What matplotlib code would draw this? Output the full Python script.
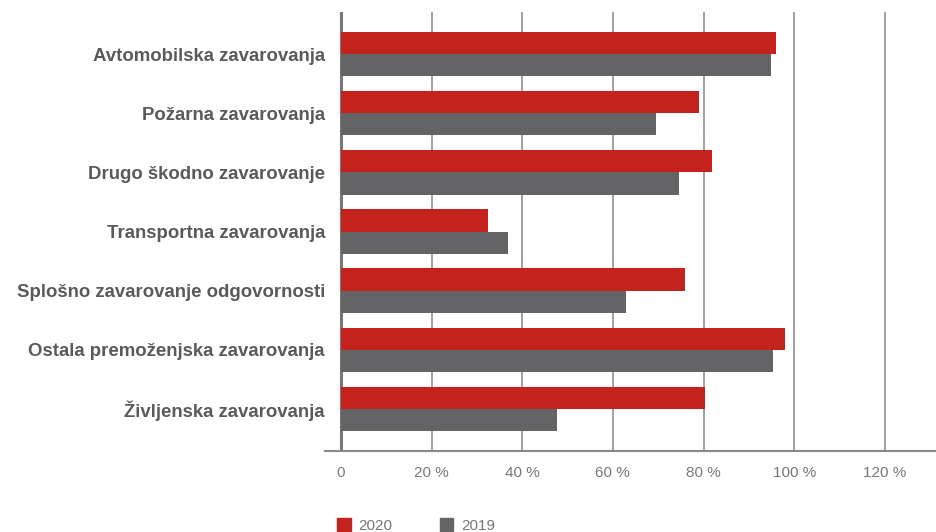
import matplotlib
matplotlib.use("Agg")
import matplotlib.pyplot as plt
from matplotlib.patches import Patch
from matplotlib import font_manager
import numpy as np

categories = [
    "Avtomobilska zavarovanja",
    "Požarna zavarovanja",
    "Drugo škodno zavarovanje",
    "Transportna zavarovanja",
    "Splošno zavarovanje odgovornosti",
    "Ostala premoženjska zavarovanja",
    "Življenska zavarovanja",
]
values_2020 = [96.0, 79.0, 81.9, 32.4, 75.9, 98.0, 80.4]
values_2019 = [94.9, 69.5, 74.6, 36.9, 62.9, 95.4, 47.7]
series_labels = ["2020", "2019"]
tick_values = [0, 20, 40, 60, 80, 100, 120]
tick_labels = ["0", "20 %", "40 %", "60 %", "80 %", "100 %", "120 %"]

red = "#C4221C"
grey = "#646466"

names = {f.name for f in font_manager.fontManager.ttflist}
if "Liberation Sans Narrow" in names:
    narrow, nsize = "Liberation Sans Narrow", 12.5
elif "DejaVu Sans Condensed" in names:
    narrow, nsize = "DejaVu Sans Condensed", 11
else:
    narrow, nsize = "Liberation Sans", 11

fig = plt.figure(figsize=(9.37, 5.32), dpi=100)
ax = fig.add_axes([325 / 937, 1 - 451 / 532, 612 / 937, 439 / 532])

y = np.arange(len(categories))
h = 0.373
ax.barh(y - h / 2, values_2020, height=h, color=red, zorder=3)
ax.barh(y + h / 2, values_2019, height=h, color=grey, zorder=3)

ax.set_ylim(6.72, -0.72)
ax.set_xlim(-3.5, 131.5)

for v in tick_values:
    if v == 0:
        ax.axvline(v, color="#777777", lw=2.2, zorder=1)
    else:
        ax.axvline(v, color="#a0a0a0", lw=1.4, zorder=1)

for s in ["top", "right", "left"]:
    ax.spines[s].set_visible(False)
ax.spines["bottom"].set_color("#888888")
ax.spines["bottom"].set_linewidth(1.5)

ax.set_xticks(tick_values)
ax.set_xticklabels(tick_labels, fontfamily=narrow, fontsize=nsize, color="#777777")
ax.tick_params(axis="x", length=0, pad=11)
ax.set_yticks(y)
ax.set_yticklabels(categories, fontfamily="Liberation Sans", fontweight="bold",
                   fontsize=13.4, color="#5a5a5a")
ax.tick_params(axis="y", length=0, pad=0)

handles = [Patch(color=red), Patch(color=grey)]
fig.legend(handles, series_labels, loc="upper left",
           bbox_to_anchor=(337 / 937, 1 - 518 / 532), ncol=2, frameon=False,
           handlelength=0.9, handleheight=0.9, handletextpad=0.5, columnspacing=3.1,
           prop={"family": narrow, "size": nsize}, labelcolor="#777777",
           borderaxespad=0, borderpad=0)

fig.savefig("out.png", dpi=100)
